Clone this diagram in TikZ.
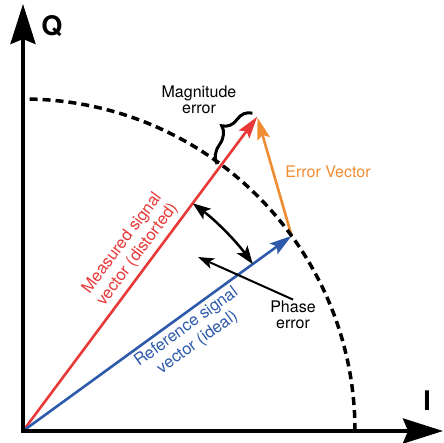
\documentclass[tikz,border=0pt]{standalone}
\usepackage{fontspec}
\setmainfont{TeX Gyre Heros}
\usetikzlibrary{arrows.meta,calc,decorations.pathreplacing}
\definecolor{SigRed}{HTML}{E83838}
\definecolor{SigBlue}{HTML}{2D5AAA}
\definecolor{ErrOrange}{HTML}{F08C32}

\begin{document}
\begin{tikzpicture}[x=1pt,y=1pt,
    axis/.style={line width=4pt,line join=miter,{Stealth[length=40pt,width=25pt,inset=5pt]}-{Stealth[length=40pt,width=25pt,inset=5pt]}},
    vec/.style={line width=2.6pt,-{Stealth[length=22pt,width=13pt,inset=4pt]}},
    lbl/.style={font=\fontsize{16}{16.5}\selectfont,align=center,inner sep=1pt},
    axlbl/.style={font=\fontsize{27}{27}\selectfont\bfseries}]
  \useasboundingbox (-23,-12) rectangle (421,431);
  % origin, vector tips and the pointer end
  \coordinate (O) at (0,0);
  \coordinate (Qtip) at (0,427);
  \coordinate (Itip) at (420,0);
  \coordinate (R) at (53.3:392);
  \coordinate (B) at (36:332);
  \coordinate (phasetip) at (175,174);

  \draw[vec,SigRed] (O) -- (R);
  \draw[vec,SigBlue] (O) -- (B);
  \draw[vec,ErrOrange,shorten >=1pt] (B) -- (R);
  \draw[line width=3.5pt,dash pattern=on 8pt off 5pt] (0:332) arc[start angle=0,end angle=90,radius=332];
  \draw[axis] (Qtip) -- (O) -- (Itip);

  \node[axlbl] (qlabel) at (29,405) {Q};
  \node[axlbl] (ilabel) at (404,30) {I};

  % magnitude error
  \draw[line width=3pt,decorate,decoration={brace,amplitude=18pt,aspect=0.55}]
    ($(53.3:330)+(143.3:4)$) -- ($(53.3:392)+(143.3:6)$);
  \node[lbl] (magerr) at (176,331) {Magnitude\\error};
  \node[lbl,text=ErrOrange] (errvec) at (305,259) {Error Vector};

  % phase error
  \draw[line width=2.5pt,{Stealth[length=18pt,width=13pt,inset=4pt]}-{Stealth[length=18pt,width=13pt,inset=4pt]}]
    (53.3:284) arc[start angle=53.3,end angle=36,radius=284];
  \node[lbl] (phase) at (270,116) {Phase\\error};
  \draw[line width=2pt,-{Stealth[length=16pt,width=11pt,inset=4pt]}] (phase.north) -- (phasetip);

  \node[lbl,text=SigRed,rotate=53.3,font=\fontsize{16.5}{19}\selectfont] (measured) at (107,182) {Measured signal\\vector (distorted)};
  \node[lbl,text=SigBlue,rotate=36,font=\fontsize{16.5}{19}\selectfont] (reference) at (169,96) {Reference signal\\vector (ideal)};
\end{tikzpicture}
\end{document}
